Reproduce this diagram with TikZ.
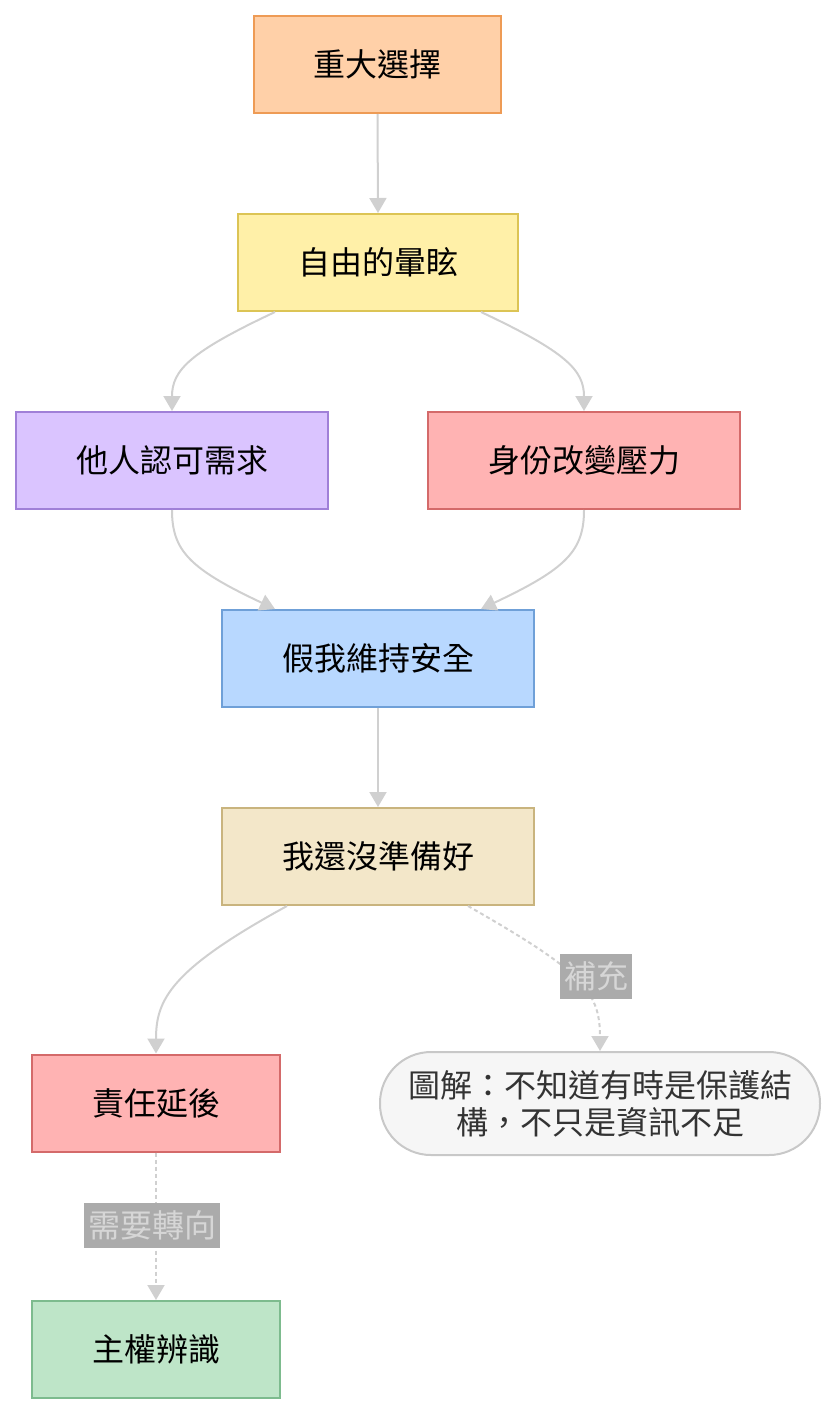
\documentclass[tikz,border=0pt]{standalone}
\usepackage{fontspec}
\newfontfamily\cjk{Noto Sans CJK TC}
\usetikzlibrary{arrows.meta}
\definecolor{edgegray}{HTML}{D0D0D0}
\definecolor{lblfill}{HTML}{ABABAB}
\definecolor{lbltext}{HTML}{D6D6D6}
\definecolor{fA}{HTML}{FFD0A8}\definecolor{dA}{HTML}{EE9B55}
\definecolor{fB}{HTML}{FFF0A8}\definecolor{dB}{HTML}{DCC455}
\definecolor{fC}{HTML}{DAC4FF}\definecolor{dC}{HTML}{A080D8}
\definecolor{fD}{HTML}{FFB3B3}\definecolor{dD}{HTML}{D46A6A}
\definecolor{fE}{HTML}{B8D8FF}\definecolor{dE}{HTML}{6FA0D8}
\definecolor{fF}{HTML}{F3E7C9}\definecolor{dF}{HTML}{C9B47E}
\definecolor{fG}{HTML}{F6F6F6}\definecolor{dG}{HTML}{C8C8C8}
\definecolor{fH}{HTML}{BEE5C8}\definecolor{dH}{HTML}{7DBB8E}
\definecolor{notetext}{HTML}{333333}
\tikzset{
  box/.style={rectangle, line width=2pt, inner sep=0pt, minimum height=97pt,
    font=\cjk\fontsize{32}{37}\selectfont, text=black},
  edge/.style={draw=edgegray, line width=2pt, -{Triangle[width=17pt,length=15pt]}},
  dedge/.style={edge, dash pattern=on 4pt off 3pt},
  lbl/.style={rectangle, fill=lblfill, inner sep=0pt, minimum height=45pt,
    font=\cjk\fontsize{32}{37}\selectfont, text=lbltext}
}
\begin{document}
\begin{tikzpicture}[x=1pt,y=-1pt]
\useasboundingbox (0,0) rectangle (836,1416);
\node[box, fill=fA, draw=dA, minimum width=247pt] (n1) at (377.5,64.5) {重大選擇};
\node[box, fill=fB, draw=dB, minimum width=280pt] (n2) at (378,262.5) {自由的暈眩};
\node[box, fill=fC, draw=dC, minimum width=312pt] (n3) at (172,460.5) {他人認可需求};
\node[box, fill=fD, draw=dD, minimum width=312pt] (n4) at (584,460.5) {身份改變壓力};
\node[box, fill=fE, draw=dE, minimum width=312pt] (n5) at (378,658.5) {假我維持安全};
\node[box, fill=fF, draw=dF, minimum width=312pt] (n6) at (378,856.5) {我還沒準備好};
\node[box, fill=fD, draw=dD, minimum width=248pt] (n7) at (156,1103) {責任延後};
\node[box, fill=fG, draw=dG, minimum width=440pt, minimum height=103pt,
  rounded corners=51pt, align=center, text=notetext] (n8) at (600,1103.5)
  {圖解：不知道有時是保護結\\構，不只是資訊不足};
\node[box, fill=fH, draw=dH, minimum width=248pt] (n9) at (156,1349.5) {主權辨識};

\draw[edge] (n1.south) -- (n2.north);
\draw[edge] ([xshift=-103pt]n2.south) .. controls (190,352) and (172,370) .. (n3.north);
\draw[edge] ([xshift=103pt]n2.south) .. controls (566,352) and (584,370) .. (n4.north);
\draw[edge] (n3.south) .. controls (172,551) and (190,569) .. ([xshift=-103pt]n5.north);
\draw[edge] (n4.south) .. controls (584,551) and (566,569) .. ([xshift=103pt]n5.north);
\draw[edge] (n5.south) -- (n6.north);
\draw[edge] ([xshift=-91pt]n6.south) .. controls (170,970) and (156,1000) .. (n7.north);
\draw[dedge] ([xshift=90pt]n6.south) .. controls (580,970) and (600,990) .. (n8.north);
\draw[dedge] (n7.south) -- (n9.north);

\node[lbl, minimum width=72pt] (l1) at (596,976.5) {補充};
\node[lbl, minimum width=136pt] (l2) at (152,1225.5) {需要轉向};
\end{tikzpicture}
\end{document}
